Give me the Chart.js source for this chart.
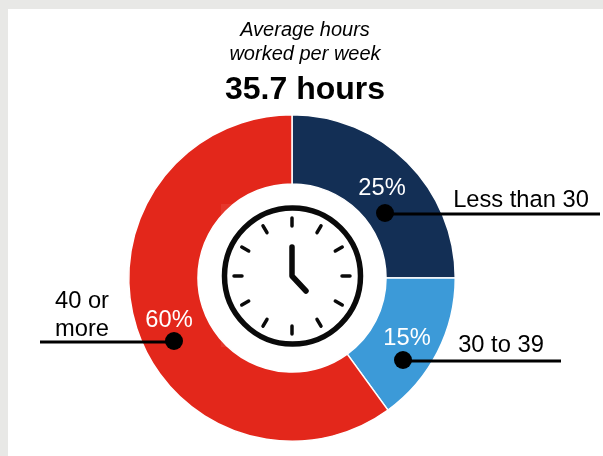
<!DOCTYPE html>
<html lang="en">
<head>
<meta charset="UTF-8">
<title>Average hours worked per week</title>
<script src="https://cdn.jsdelivr.net/npm/chart.js@4"></script>
<style>
  html, body { margin: 0; padding: 0; background: #e8e8e6; overflow: hidden; }
  .panel { position: absolute; left: 8px; top: 9px; width: 595px; height: 447px; background: #fff; }
  #chart { position: absolute; left: 0; top: 0; }
</style>
</head>
<body>
<div class="panel"></div>
<canvas id="chart" width="603" height="456"></canvas>
<script>
const categories = ['Less than 30', '30 to 39', '40 or more'];
const shares = [25, 15, 60];
const colors = ['#132f55', '#3c9ad8', '#e3271b'];
const titleLines = ['Average hours', 'worked per week'];
const headline = '35.7 hours';

const FONT = '"Liberation Sans", Arial, sans-serif';

// callout layout, one per slice
const callouts = [
  { pct: [382, 195], dot: [385, 213], lineEnd: 600, label: [['Less than 30', 521, 207]] },
  { pct: [407, 345], dot: [403, 360], lineEnd: 561, label: [['30 to 39', 501, 352]] },
  { pct: [169, 327], dot: [174, 341], lineEnd: 40, label: [['40 or', 82, 308], ['more', 82, 336]] }
];

function drawClock(ctx, cx, cy) {
  ctx.save();
  // the clock picture has a faintly pale square, it only shows over the red slice
  ctx.fillStyle = 'rgba(255,255,255,0.08)';
  ctx.fillRect(cx - 71, cy - 72, 71, 143);
  ctx.strokeStyle = '#0a0a0a';
  ctx.lineCap = 'round';
  ctx.lineJoin = 'round';
  ctx.lineWidth = 5.5;
  ctx.beginPath();
  ctx.arc(cx + 0.5, cy, 68, 0, Math.PI * 2);
  ctx.stroke();
  ctx.lineWidth = 3.5;
  for (let i = 0; i < 12; i++) {
    const a = i * Math.PI / 6;
    ctx.beginPath();
    ctx.moveTo(cx + Math.sin(a) * 50, cy - Math.cos(a) * 50);
    ctx.lineTo(cx + Math.sin(a) * 58, cy - Math.cos(a) * 58);
    ctx.stroke();
  }
  ctx.lineWidth = 5.5;
  ctx.beginPath();
  ctx.moveTo(cx, cy - 29);
  ctx.lineTo(cx, cy);
  ctx.lineTo(cx + 14, cy + 15);
  ctx.stroke();
  ctx.restore();
}

const annotations = {
  id: 'annotations',
  afterDatasetsDraw(chart) {
    const ctx = chart.ctx;
    const meta = chart.getDatasetMeta(0).data[0];
    ctx.save();
    ctx.textBaseline = 'alphabetic';
    ctx.textAlign = 'center';
    ctx.fillStyle = '#000';

    ctx.font = 'italic 20px ' + FONT;
    ctx.fillText(titleLines[0], 305, 36);
    ctx.fillText(titleLines[1], 305, 60);
    ctx.font = 'bold 32px ' + FONT;
    ctx.fillText(headline, 305, 99);

    drawClock(ctx, meta.x, meta.y - 2);

    callouts.forEach((c, i) => {
      ctx.strokeStyle = '#000';
      ctx.lineWidth = 3;
      ctx.beginPath();
      ctx.moveTo(c.dot[0], c.dot[1] + 1);
      ctx.lineTo(c.lineEnd, c.dot[1] + 1);
      ctx.stroke();
      ctx.beginPath();
      ctx.arc(c.dot[0], c.dot[1], 9, 0, Math.PI * 2);
      ctx.fillStyle = '#000';
      ctx.fill();
      ctx.font = '23.7px ' + FONT;
      c.label.forEach(l => ctx.fillText(l[0], l[1], l[2]));
      ctx.fillStyle = '#fff';
      ctx.fillText(shares[i] + '%', c.pct[0], c.pct[1]);
      ctx.fillStyle = '#000';
    });
    ctx.restore();
  }
};

new Chart(document.getElementById('chart'), {
  type: 'doughnut',
  data: {
    labels: categories,
    datasets: [{
      data: shares,
      backgroundColor: colors,
      borderColor: '#fff',
      borderWidth: 1.5
    }]
  },
  options: {
    responsive: false,
    animation: false,
    cutout: '57.6%',
    layout: { padding: { left: 128, right: 147, top: 114, bottom: 14 } },
    plugins: { legend: { display: false }, tooltip: { enabled: false } }
  },
  plugins: [annotations]
});
</script>
</body>
</html>
